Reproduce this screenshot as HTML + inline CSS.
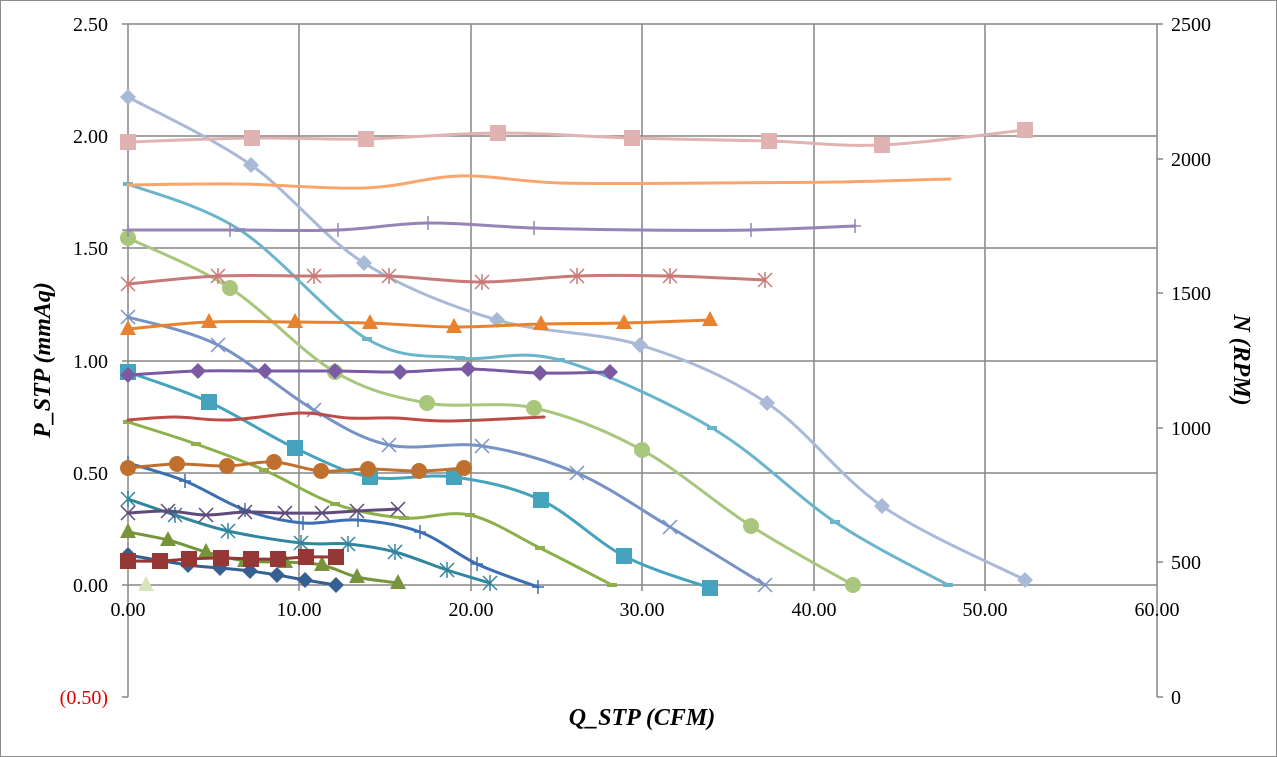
<!DOCTYPE html>
<html><head><meta charset="utf-8"><style>
html,body{margin:0;padding:0;background:#fff}
svg{display:block;font-family:"Liberation Serif",serif}
</style></head><body>
<svg id="s" width="1277" height="757" xmlns="http://www.w3.org/2000/svg">
<rect x="0.5" y="0.5" width="1276" height="756" fill="#fff" stroke="#8c8c8c"/>
<g stroke="#868686" stroke-width="1.5" fill="none">
<line x1="122" y1="24" x2="1157" y2="24"/><line x1="122" y1="136" x2="1157" y2="136"/>
<line x1="122" y1="248" x2="1157" y2="248"/><line x1="122" y1="361" x2="1157" y2="361"/>
<line x1="122" y1="473" x2="1157" y2="473"/><line x1="122" y1="585" x2="1157" y2="585"/>
<line x1="128" y1="24" x2="128" y2="697"/><line x1="299" y1="24" x2="299" y2="591"/>
<line x1="471" y1="24" x2="471" y2="591"/><line x1="642" y1="24" x2="642" y2="591"/>
<line x1="814" y1="24" x2="814" y2="591"/><line x1="985" y1="24" x2="985" y2="591"/>
<line x1="1157" y1="24" x2="1157" y2="697"/>
<line x1="1157" y1="24" x2="1163" y2="24"/><line x1="1157" y1="159" x2="1163" y2="159"/>
<line x1="1157" y1="293" x2="1163" y2="293"/><line x1="1157" y1="428" x2="1163" y2="428"/>
<line x1="1157" y1="562" x2="1163" y2="562"/><line x1="1157" y1="697" x2="1163" y2="697"/>
<line x1="122" y1="697" x2="128" y2="697"/>
</g>
<g font-size="20" fill="#000" text-anchor="end">
<text x="108" y="31">2.50</text><text x="108" y="143">2.00</text><text x="108" y="255">1.50</text>
<text x="108" y="368">1.00</text><text x="108" y="480">0.50</text><text x="108" y="592">0.00</text>
<text x="108" y="704" fill="#e00000">(0.50)</text>
</g>
<g font-size="20" text-anchor="start">
<text x="1171" y="31">2500</text><text x="1171" y="166">2000</text><text x="1171" y="300">1500</text>
<text x="1171" y="435">1000</text><text x="1171" y="569">500</text><text x="1171" y="704">0</text>
</g>
<g font-size="20" text-anchor="middle">
<text x="128" y="616">0.00</text><text x="299" y="616">10.00</text><text x="471" y="616">20.00</text>
<text x="642" y="616">30.00</text><text x="814" y="616">40.00</text><text x="985" y="616">50.00</text><text x="1157" y="616">60.00</text>
</g>
<text x="642" y="725" font-size="24" font-weight="bold" font-style="italic" text-anchor="middle">Q_STP (CFM)</text>
<text transform="translate(50,360) rotate(-90)" font-size="24" font-weight="bold" font-style="italic" text-anchor="middle">P_STP (mmAq)</text>
<text transform="translate(1234,360) rotate(90)" font-size="24" font-weight="bold" font-style="italic" text-anchor="middle">N (RPM)</text>
<g id="data"></g>
</svg>
<script>
var S=[
["#A9B9D8","diamond",[[128,97],[251,165],[364,263],[497,320],[640,345],[767,403],[882,506],[1025,580]]],
["#6BB5CC","dash",[[128,184],[240,230],[367,339],[460,358],[560,360],[712,428],[835,522],[948,585]]],
["#A9C77C","circle",[[128,238],[230,288],[335,372],[427,403],[534,408],[642,450],[751,526],[853,585]]],
["#7793C6","x",[[128,317],[218,345],[314,410],[389,445],[482,446],[577,473],[670,527],[765,585]]],
["#45A3BD","square",[[128,372],[209,402],[295,448],[370,477],[454,477],[541,500],[624,556],[710,588]]],
["#8DB04B","dash",[[128,422],[196,444],[264,470],[335,504],[404,518],[470,515],[540,548],[612,585]]],
["#3C6EB4","plus",[[128,463],[185,481],[245,510],[303,523],[358,520],[420,532],[477,564],[538,587]]],
["#31859C","star",[[128,499],[175,515],[228,531],[301,543],[348,544],[395,552],[447,570],[490,583]]],
["#77933C","tri",[[128,532],[168,540],[206,552],[245,561],[285,562],[322,565],[357,577],[398,583]]],
["#366092","diamond",[[128,555],[188,565],[220,568],[250,571],[277,575],[305,580],[336,585]]],
["#D8E4BC","tri",[[146,585]]],
["#E0B3B2","square",[[128,142],[252,138],[366,139],[498,133],[632,138],[769,141],[882,145],[1025,130]]],
["#F9A56C","none",[[128,185],[240,184],[365,188],[460,176],[560,183],[712,183],[835,182],[950,179]]],
["#9783B5","plus",[[128,230],[230,230],[338,230],[428,223],[534,228],[642,230],[751,230],[855,226]]],
["#C77A78","star",[[128,284],[218,276],[314,276],[389,276],[482,282],[577,276],[670,276],[765,280]]],
["#E8822E","tri",[[128,329],[209,322],[295,322],[370,323],[454,327],[541,324],[624,323],[710,320]]],
["#7B5AA3","diamond",[[128,375],[198,371],[265,371],[335,371],[400,372],[468,369],[540,373],[610,372]]],
["#BE4B48","none",[[128,420],[175,417],[228,420],[301,413],[348,418],[395,418],[447,421],[544,417]]],
["#C0702E","circle",[[128,468],[177,464],[227,466],[274,462],[321,471],[368,469],[419,471],[464,468]]],
["#5F4A7B","x",[[128,513],[168,511],[206,515],[245,512],[285,513],[322,513],[357,511],[398,509]]],
["#953735","square",[[128,561],[160,561],[189,559],[221,558],[251,559],[278,559],[306,557],[336,557]]]
];
function path(p){if(p.length<2)return "";var d="M"+p[0][0]+","+p[0][1];
for(var i=0;i<p.length-1;i++){var p0=p[i-1]||p[i],p1=p[i],p2=p[i+1],p3=p[i+2]||p2;
var c1=[p1[0]+(p2[0]-p0[0])/6,p1[1]+(p2[1]-p0[1])/6],c2=[p2[0]-(p3[0]-p1[0])/6,p2[1]-(p3[1]-p1[1])/6];
d+=" C"+c1+" "+c2+" "+p2;}return d;}
function mk(t,x,y,c){switch(t){
case"diamond":return '<polygon points="'+x+','+(y-8)+' '+(x+8)+','+y+' '+x+','+(y+8)+' '+(x-8)+','+y+'" fill="'+c+'"/>';
case"square":return '<rect x="'+(x-8)+'" y="'+(y-8)+'" width="16" height="16" fill="'+c+'"/>';
case"circle":return '<circle cx="'+x+'" cy="'+y+'" r="8" fill="'+c+'"/>';
case"tri":return '<polygon points="'+x+','+(y-9)+' '+(x+8)+','+(y+6)+' '+(x-8)+','+(y+6)+'" fill="'+c+'"/>';
case"x":return '<path d="M'+(x-7)+','+(y-7)+'L'+(x+7)+','+(y+7)+'M'+(x+7)+','+(y-7)+'L'+(x-7)+','+(y+7)+'" stroke="'+c+'" stroke-width="1.5"/>';
case"plus":return '<path d="M'+(x-6)+','+y+'H'+(x+6)+'M'+x+','+(y-7)+'V'+(y+7)+'" stroke="'+c+'" stroke-width="1.5"/>';
case"star":return '<path d="M'+(x-7)+','+(y-7)+'L'+(x+7)+','+(y+7)+'M'+(x+7)+','+(y-7)+'L'+(x-7)+','+(y+7)+'M'+x+','+(y-8)+'V'+(y+8)+'" stroke="'+c+'" stroke-width="1.5"/>';
case"dash":return '<path d="M'+(x-5)+','+y+'H'+(x+5)+'" stroke="'+c+'" stroke-width="4"/>';
}return"";}
var h="";S.forEach(function(s){h+='<path d="'+path(s[2])+'" fill="none" stroke="'+s[0]+'" stroke-width="3" stroke-linecap="round"/>';
s[2].forEach(function(p){h+=mk(s[1],p[0],p[1],s[0]);});});
document.getElementById("data").innerHTML=h;
</script>
</body></html>
